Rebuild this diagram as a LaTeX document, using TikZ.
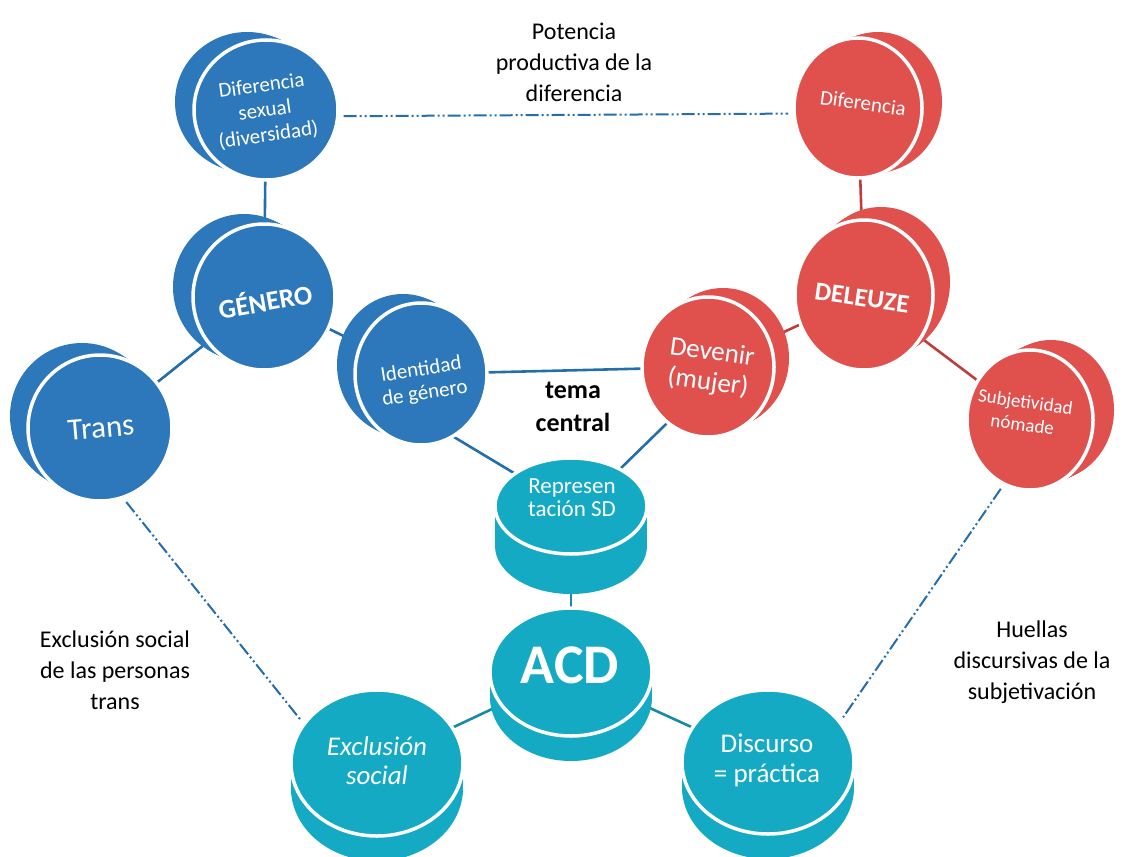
\documentclass[tikz,border=0pt]{standalone}
\usepackage{fontspec}
\setmainfont{Carlito}
\usetikzlibrary{shapes.geometric,backgrounds}

\definecolor{discblue}{RGB}{44,120,186}
\definecolor{discred}{RGB}{224,81,78}
\definecolor{discteal}{RGB}{20,170,196}
\definecolor{lnblue}{RGB}{36,110,172}
\definecolor{lnred}{RGB}{190,62,62}
\definecolor{lnteal}{RGB}{22,138,166}

% disc: name, x, y, x radius, y radius, depth dx, depth dy, colour
\newcommand{\mkdisc}[8]{%
  \foreach \s in {0,0.1,...,1.01}{%
    \fill[#8] ({#2+\s*(#6)},{#3+\s*(#7)}) ellipse [x radius=#4pt, y radius=#5pt];
  }%
  \node[discface, fill=#8, minimum width=#4*2pt, minimum height=#5*2pt] (#1) at (#2,#3) {};
}

\begin{document}
\begin{tikzpicture}[x=1pt,y=-1pt,
  discface/.style={ellipse, draw=white, line width=3.5pt, inner sep=0pt, outer sep=0pt},
  disctext/.style={text=white, align=center, inner sep=0pt},
  link/.style={line width=2.6pt},
  trace/.style={line width=2pt, color=lnblue, shorten <=6pt, shorten >=6pt,
    dash pattern=on 13pt off 3pt on 2pt off 3pt on 2pt off 3pt},
  caption/.style={align=center, text=black, inner sep=0pt, font=\fontsize{24}{31}\selectfont}]
\useasboundingbox (0,0) rectangle (1123,856);

% blue discs
\mkdisc{dsx}{266}{110}{72}{70}{-19}{-8}{discblue}
\mkdisc{gen}{264}{297}{71}{73}{-20}{-10}{discblue}
\mkdisc{trans}{100}{428}{72}{73}{-18}{-12}{discblue}
\mkdisc{idg}{421}{374}{66}{71}{-18}{-9}{discblue}
% red discs
\mkdisc{dif}{858}{108}{64}{70}{20}{-6}{discred}
\mkdisc{del}{864}{295}{69}{75}{17}{-13}{discred}
\mkdisc{dev}{708}{367}{66}{70}{15}{-9}{discred}
\mkdisc{sub}{1030}{420}{63}{70}{21}{-10}{discred}
% teal discs
\mkdisc{rep}{571}{506}{76}{48}{0}{40}{discteal}
\mkdisc{acd}{571}{672}{81}{64}{0}{25}{discteal}
\mkdisc{exc}{377}{763}{86}{73}{0}{25}{discteal}
\mkdisc{dis}{768}{762}{86}{72}{0}{25}{discteal}

% disc labels
\node[disctext, rotate=8, font=\fontsize{21}{25}\selectfont] (dsx-t) at (265,111) {Diferencia\\sexual\\(diversidad)};
\node[disctext, rotate=10, font=\fontsize{27}{30}\selectfont\bfseries] (gen-t) at (265,300) {GÉNERO};
\node[disctext, rotate=5, font=\fontsize{31}{34}\selectfont] (trans-t) at (101,428) {Trans};
\node[disctext, rotate=9, font=\fontsize{21}{24}\selectfont] (idg-t) at (423,382) {Identidad\\de género};
\node[disctext, rotate=-8, font=\fontsize{21}{25}\selectfont] (dif-t) at (863,103) {Diferencia};
\node[disctext, rotate=-8, font=\fontsize{26}{30}\selectfont\bfseries] (del-t) at (862,298) {DELEUZE};
\node[disctext, rotate=-8, font=\fontsize{27}{30}\selectfont] (dev-t) at (710,368) {Devenir\\(mujer)};
\node[disctext, rotate=-8, font=\fontsize{19}{23}\selectfont] (sub-t) at (1024,413) {Subjetividad\\nómade};
\node[disctext, font=\fontsize{23}{23}\selectfont] (rep-t) at (572,498) {Represen\\tación SD};
\node[disctext, font=\fontsize{56}{60}\selectfont\bfseries] (acd-t) at (570,665) {ACD};
\node[disctext, font=\fontsize{27}{29}\selectfont\itshape] (exc-t) at (377,761) {Exclusión\\social};
\node[disctext, font=\fontsize{27}{30}\selectfont] (dis-t) at (767,760) {Discurso\\= práctica};

% free captions
\node[caption] (pot) at (574,62) {Potencia\\productiva de la\\diferencia};
\node[caption, font=\fontsize{26}{33}\selectfont\bfseries] (tema) at (573,407) {tema\\central};
\node[caption] (exs) at (115,670) {Exclusión social\\de las personas\\trans};
\node[caption] (hue) at (1032,662) {Huellas\\discursivas de la\\subjetivación};

% connectors behind the discs
\begin{scope}[on background layer]
  \draw[link, lnblue] (dsx) -- (gen);
  \draw[link, lnblue] (gen) -- (trans);
  \draw[link, lnblue] (gen) -- (idg);
  \draw[link, lnblue] (idg) -- (dev);
  \draw[link, lnblue] (idg.-63) -- (rep.150);
  \draw[link, lnblue] (dev.-126) -- (rep.37);
  \draw[link, lnred] (dif) -- (del);
  \draw[link, lnred] (del) -- (dev);
  \draw[link, lnred] (del) -- (sub);
  \draw[link, lnteal] (rep) -- (acd);
  \draw[link, lnteal] (acd) -- (exc);
  \draw[link, lnteal] (acd) -- (dis);
  \draw[trace] (dsx.-5) -- (dif.185);
  \draw[trace] (trans.-72) -- (exc.152);
  \draw[trace] (sub.-112) -- (dis.29);
\end{scope}
\end{tikzpicture}
\end{document}
